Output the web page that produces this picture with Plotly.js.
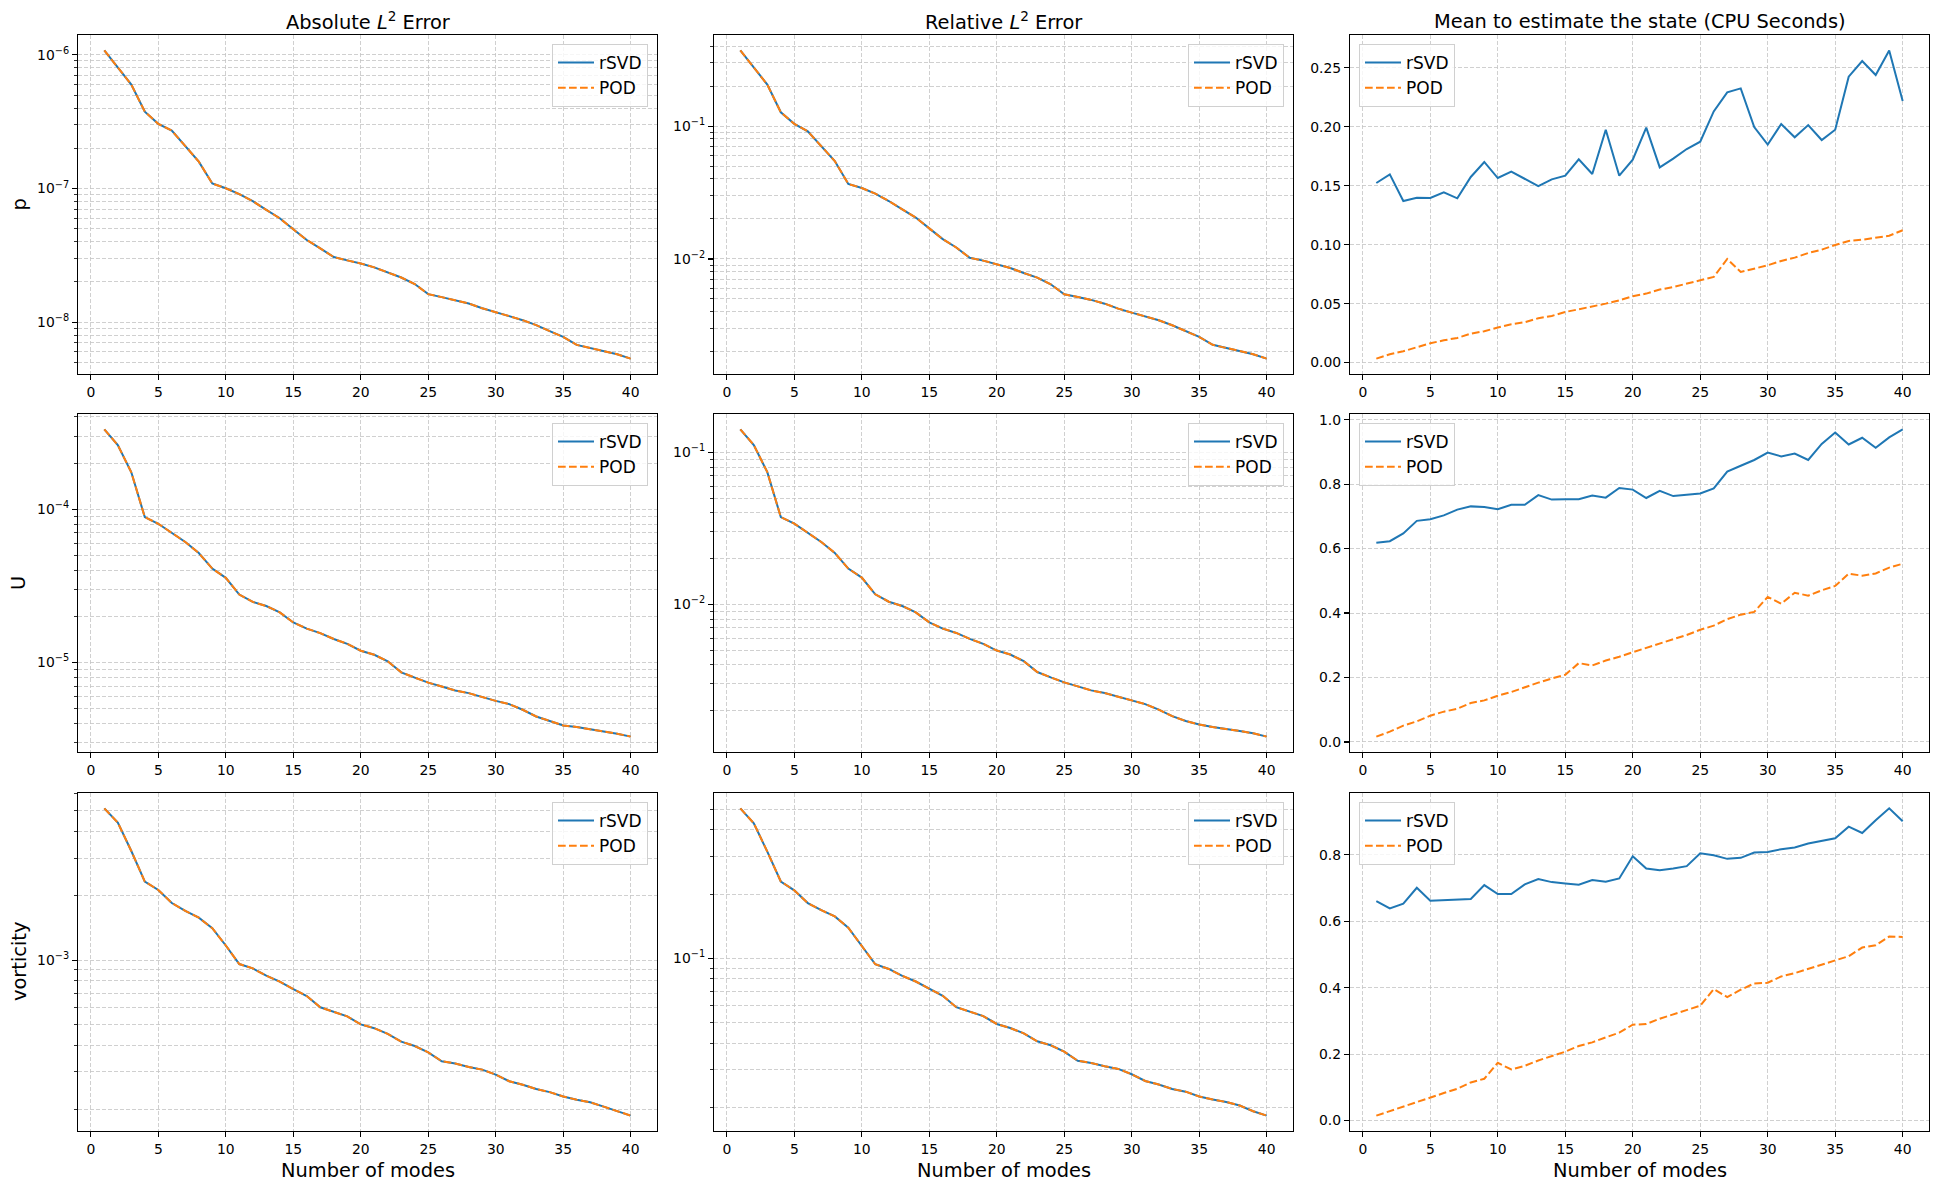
<!DOCTYPE html>
<html>
<head>
<meta charset="utf-8">
<script src="https://cdn.plot.ly/plotly-3.0.1.min.js"></script>
<style>html,body{margin:0;padding:0;background:#fff;}#chart{width:1940px;height:1189px;}</style>
</head>
<body>
<div id="chart"></div>
<script>
// ---- data ----
const modes = [1,2,3,4,5,6,7,8,9,10,11,12,13,14,15,16,17,18,19,20,21,22,23,24,25,26,27,28,29,30,31,32,33,34,35,36,37,38,39,40];

const colTitles = ["Absolute <i>L</i><sup>2</sup> Error", "Relative <i>L</i><sup>2</sup> Error", "Mean to estimate the state (CPU Seconds)"];
const rowLabels = ["p", "U", "vorticity"];
const seriesNames = ["rSVD", "POD"];

// errors: rSVD and POD coincide in the reference
const absP = [1.08e-6,8.1e-7,6.0e-7,3.76e-7,3.05e-7,2.71e-7,2.09e-7,1.59e-7,1.09e-7,1.005e-7,9.07e-8,8.04e-8,6.92e-8,5.99e-8,4.95e-8,4.12e-8,3.57e-8,3.07e-8,2.90e-8,2.75e-8,2.57e-8,2.34e-8,2.16e-8,1.93e-8,1.62e-8,1.54e-8,1.46e-8,1.38e-8,1.27e-8,1.18e-8,1.11e-8,1.035e-8,9.5e-9,8.56e-9,7.76e-9,6.76e-9,6.42e-9,6.10e-9,5.75e-9,5.34e-9];
const relP = [0.371,0.278,0.205,0.127,0.104,0.0912,0.0708,0.0546,0.0367,0.0342,0.0310,0.0273,0.0236,0.0205,0.0170,0.0141,0.0122,0.0102,0.00972,0.00917,0.00856,0.00785,0.00724,0.00645,0.00542,0.00518,0.00492,0.00461,0.00423,0.00395,0.00371,0.00346,0.00317,0.00286,0.00259,0.00226,0.00214,0.00203,0.00192,0.00178];
const cpuP_rsvd = [0.1523,0.1596,0.1370,0.1398,0.1396,0.1444,0.1393,0.1574,0.1701,0.1565,0.1619,0.1559,0.1497,0.1554,0.1585,0.1723,0.1599,0.1975,0.1585,0.1720,0.1992,0.1655,0.1729,0.1811,0.1873,0.2130,0.2291,0.2325,0.1997,0.1848,0.2023,0.1910,0.2014,0.1887,0.1975,0.2424,0.2557,0.2438,0.2647,0.2218];
const cpuP_pod = [0.0034,0.0071,0.0096,0.0133,0.0164,0.0189,0.0209,0.0246,0.0266,0.0297,0.0325,0.0342,0.0376,0.0396,0.0429,0.0452,0.0475,0.0500,0.0528,0.0562,0.0585,0.0619,0.0641,0.0672,0.0698,0.0726,0.0879,0.0768,0.0797,0.0825,0.0862,0.0890,0.0929,0.0958,0.0997,0.1031,0.1042,0.1059,0.1076,0.1122];

const absU = [3.32e-4,2.62e-4,1.74e-4,8.87e-5,8.03e-5,6.98e-5,6.10e-5,5.17e-5,4.09e-5,3.56e-5,2.77e-5,2.48e-5,2.33e-5,2.12e-5,1.82e-5,1.66e-5,1.55e-5,1.42e-5,1.32e-5,1.19e-5,1.12e-5,1.015e-5,8.6e-6,7.95e-6,7.37e-6,6.95e-6,6.54e-6,6.29e-6,5.92e-6,5.60e-6,5.33e-6,4.90e-6,4.43e-6,4.13e-6,3.87e-6,3.78e-6,3.66e-6,3.54e-6,3.42e-6,3.27e-6];
const relU = [0.1415,0.1117,0.0740,0.0375,0.0340,0.0295,0.0257,0.0218,0.0172,0.0150,0.01164,0.01041,0.00975,0.00886,0.00762,0.00693,0.00649,0.00593,0.00550,0.00497,0.00468,0.00423,0.00359,0.00331,0.00307,0.00289,0.00272,0.00261,0.00246,0.00233,0.00221,0.00203,0.00184,0.00171,0.00162,0.00156,0.00152,0.00147,0.00142,0.00135];
const cpuU_rsvd = [0.618,0.623,0.647,0.686,0.691,0.703,0.721,0.731,0.729,0.722,0.736,0.736,0.766,0.752,0.753,0.753,0.765,0.758,0.788,0.783,0.757,0.779,0.763,0.766,0.771,0.787,0.839,0.857,0.875,0.898,0.886,0.895,0.875,0.925,0.960,0.923,0.944,0.913,0.945,0.970];
const cpuU_pod = [0.0165,0.032,0.0506,0.064,0.0815,0.094,0.103,0.121,0.129,0.1434,0.155,0.170,0.184,0.197,0.2085,0.2446,0.2374,0.2528,0.2642,0.2786,0.292,0.3055,0.320,0.332,0.348,0.361,0.381,0.395,0.4035,0.450,0.429,0.463,0.454,0.4706,0.484,0.522,0.516,0.523,0.541,0.553];

const absV = [5.13e-3,4.40e-3,3.24e-3,2.33e-3,2.13e-3,1.85e-3,1.70e-3,1.58e-3,1.41e-3,1.17e-3,9.58e-4,9.14e-4,8.45e-4,7.92e-4,7.32e-4,6.79e-4,6.01e-4,5.71e-4,5.45e-4,5.00e-4,4.80e-4,4.51e-4,4.15e-4,3.96e-4,3.70e-4,3.36e-4,3.28e-4,3.16e-4,3.07e-4,2.91e-4,2.71e-4,2.61e-4,2.49e-4,2.41e-4,2.30e-4,2.22e-4,2.16e-4,2.06e-4,1.96e-4,1.87e-4];
const relV = [0.504,0.429,0.316,0.229,0.208,0.1814,0.168,0.157,0.139,0.1146,0.0937,0.0891,0.0827,0.0778,0.0722,0.0667,0.0590,0.0561,0.0536,0.0492,0.0471,0.0445,0.0408,0.0391,0.0365,0.0331,0.0323,0.0312,0.0303,0.0286,0.0266,0.0256,0.0244,0.0237,0.0225,0.0218,0.0212,0.0204,0.0192,0.0183];
const cpuV_rsvd = [0.661,0.639,0.653,0.701,0.662,0.663,0.666,0.667,0.709,0.682,0.682,0.711,0.727,0.718,0.714,0.710,0.724,0.719,0.729,0.796,0.759,0.754,0.759,0.766,0.805,0.799,0.788,0.791,0.807,0.809,0.817,0.822,0.834,0.842,0.850,0.885,0.866,0.904,0.940,0.901];
const cpuV_pod = [0.015,0.029,0.041,0.055,0.069,0.083,0.096,0.115,0.126,0.174,0.154,0.165,0.181,0.194,0.2075,0.2246,0.2356,0.2506,0.2647,0.2887,0.2907,0.3068,0.3198,0.3318,0.346,0.396,0.372,0.394,0.413,0.415,0.434,0.444,0.457,0.470,0.482,0.495,0.521,0.528,0.554,0.553];

// ---- panel setup ----
const panels = [
  {row:0,col:0,log:true,  a:absP, b:absP},
  {row:0,col:1,log:true,  a:relP, b:relP},
  {row:0,col:2,log:false, a:cpuP_rsvd, b:cpuP_pod, dtick:0.05, fmt:'.2f'},
  {row:1,col:0,log:true,  a:absU, b:absU},
  {row:1,col:1,log:true,  a:relU, b:relU},
  {row:1,col:2,log:false, a:cpuU_rsvd, b:cpuU_pod, dtick:0.2, fmt:'.1f'},
  {row:2,col:0,log:true,  a:absV, b:absV},
  {row:2,col:1,log:true,  a:relV, b:relV},
  {row:2,col:2,log:false, a:cpuV_rsvd, b:cpuV_pod, dtick:0.2, fmt:'.1f'}
];

const W = 1940, H = 1189;
const colPx = [[78,657],[714,1293],[1350,1929]];
const rowPx = [[35,374],[414,752],[793,1131]];
const FONT = "DejaVu Sans";
const BLUE = "#1f77b4", ORANGE = "#ff7f0e";
const GRIDC = "#c4c4c4", GRIDDASH = "4px,2px";

const traces = [];
const layout = {
  width: W, height: H,
  margin: {l:0, r:0, t:0, b:0},
  paper_bgcolor: "#fff", plot_bgcolor: "#fff",
  font: {family: FONT, size: 14, color: "#000"},
  showlegend: true,
  annotations: []
};

function sup(n){ return "10<sup>" + (n<0 ? "\u2212" + (-n) : n) + "</sup>"; }

panels.forEach((p, i) => {
  const n = i + 1;
  const xa = "xaxis" + (n===1 ? "" : n), ya = "yaxis" + (n===1 ? "" : n);
  const xr = "x" + (n===1 ? "" : n), yr = "y" + (n===1 ? "" : n);
  const lg = "legend" + (n===1 ? "" : n);

  traces.push({x: modes, y: p.a, xaxis: xr, yaxis: yr, legend: lg, name: seriesNames[0],
    type: "scatter", mode: "lines", line: {color: BLUE, width: 2}});
  traces.push({x: modes, y: p.b, xaxis: xr, yaxis: yr, legend: lg, name: seriesNames[1],
    type: "scatter", mode: "lines", line: {color: ORANGE, width: 2, dash: "7.7px,3.3px"}});

  const cx = colPx[p.col], cy = rowPx[p.row];
  const xmin = Math.min(...modes), xmax = Math.max(...modes), xs = xmax - xmin;
  const common = {
    showline: true, mirror: true, linecolor: "#000", linewidth: 1.1,
    ticks: "outside", ticklen: 5, tickwidth: 1.1, tickcolor: "#000",
    showgrid: true, gridcolor: GRIDC, gridwidth: 0.8, griddash: GRIDDASH,
    zeroline: false, automargin: false, fixedrange: true,
    tickfont: {family: FONT, size: 13.9, color: "#000"}
  };
  layout[xa] = Object.assign({}, common, {
    domain: [cx[0]/W, cx[1]/W], anchor: yr,
    range: [xmin - 0.05*xs, xmax + 0.05*xs], tickmode: "linear", tick0: 0, dtick: 5
  });

  const all = p.a.concat(p.b);
  const lo = Math.min(...all), hi = Math.max(...all);
  const ydom = [1 - cy[1]/H, 1 - cy[0]/H];
  if (p.log) {
    const l0 = Math.log10(lo), l1 = Math.log10(hi), s = l1 - l0;
    const r0 = l0 - 0.05*s, r1 = l1 + 0.05*s;
    const major = [], majorText = [], minor = [];
    for (let d = Math.floor(r0); d <= Math.ceil(r1); d++) {
      for (let k = 1; k <= 9; k++) {
        const lv = d + Math.log10(k);
        if (lv < r0 || lv > r1) continue;
        if (k === 1) { major.push(Math.pow(10, d)); majorText.push(sup(d)); }
        else minor.push(k * Math.pow(10, d));
      }
    }
    layout[ya] = Object.assign({}, common, {
      domain: ydom, anchor: xr, type: "log", range: [r0, r1],
      tickmode: "array", tickvals: major, ticktext: majorText,
      minor: {tickmode: "array", tickvals: minor, ticks: "outside", ticklen: 3, tickwidth: 0.8,
              tickcolor: "#000", showgrid: true, gridcolor: GRIDC, gridwidth: 0.8, griddash: GRIDDASH}
    });
  } else {
    const s = hi - lo;
    layout[ya] = Object.assign({}, common, {
      domain: ydom, anchor: xr, range: [lo - 0.05*s, hi + 0.05*s],
      tickmode: "linear", tick0: 0, dtick: p.dtick, tickformat: p.fmt
    });
  }

  // legend per subplot
  const right = p.col < 2;
  layout[lg] = {
    x: right ? (cx[1] - 9)/W : (cx[0] + 9)/W,
    y: 1 - (cy[0] + 9)/H,
    xanchor: right ? "right" : "left", yanchor: "top",
    xref: "paper", yref: "paper",
    bgcolor: "rgba(255,255,255,0.8)", bordercolor: "#d0d0d0", borderwidth: 1,
    font: {family: FONT, size: 17, color: "#000"},
    itemwidth: 36, tracegroupgap: 0
  };
});

// column titles and x labels
colTitles.forEach((t, c) => {
  layout.annotations.push({text: t, xref: "paper", yref: "paper",
    x: (colPx[c][0] + colPx[c][1]) / 2 / W, y: 1 - 21/H,
    xanchor: "center", yanchor: "middle", showarrow: false,
    font: {family: FONT, size: 19.4, color: "#000"}});
  layout.annotations.push({text: "Number of modes", xref: "paper", yref: "paper",
    x: (colPx[c][0] + colPx[c][1]) / 2 / W, y: 1 - 1157/H,
    xanchor: "center", yanchor: "top", showarrow: false,
    font: {family: FONT, size: 19.4, color: "#000"}});
});
// row labels
rowLabels.forEach((t, r) => {
  layout.annotations.push({text: t, xref: "paper", yref: "paper",
    x: 19/W, y: 1 - (rowPx[r][0] + rowPx[r][1]) / 2 / H,
    xanchor: "center", yanchor: "middle", textangle: -90, showarrow: false,
    font: {family: FONT, size: 19.4, color: "#000"}});
});

Plotly.newPlot("chart", traces, layout, {staticPlot: true, displayModeBar: false});
</script>
</body>
</html>
